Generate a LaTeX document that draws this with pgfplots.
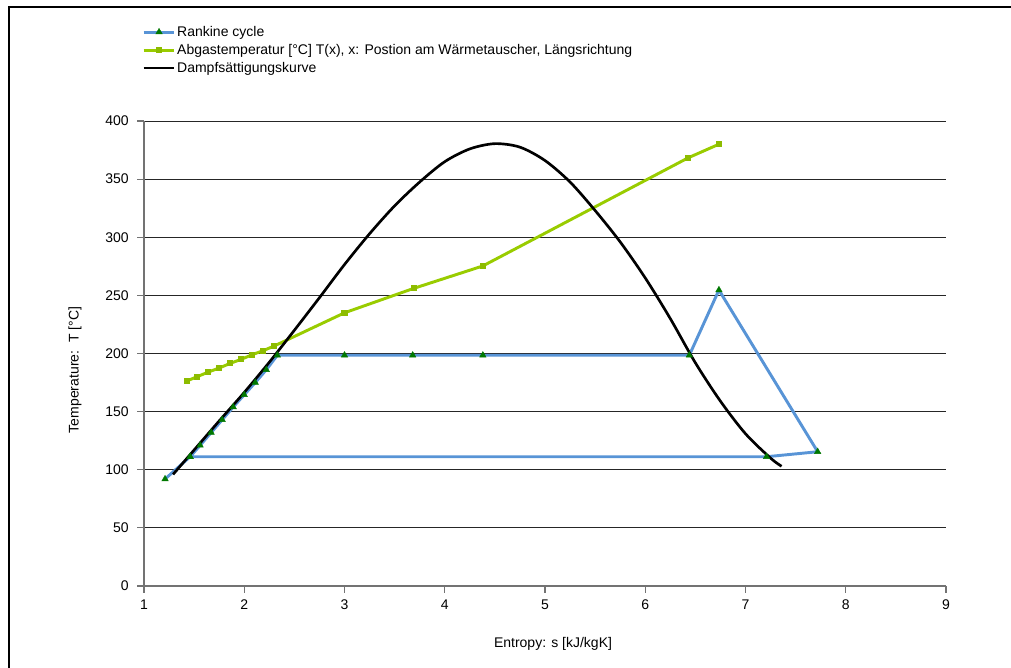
\documentclass[border=0pt]{standalone}
\usepackage{fontspec}
\setmainfont{Liberation Sans}
\usepackage{pgfplots}
\pgfplotsset{compat=1.18}
\definecolor{rblue}{RGB}{88,148,214}
\definecolor{rgreen}{RGB}{153,204,0}
\definecolor{mgreen}{RGB}{0,120,0}
\begin{document}
\begin{tikzpicture}[font=\fontsize{10.5pt}{12pt}\selectfont]
\useasboundingbox (0,0) rectangle (758.25pt,501pt);
\draw[line width=0.9pt] (6.75pt,-5pt) -- (6.75pt,495.75pt) -- (765pt,495.75pt);
\begin{axis}[at={(108pt,61.5pt)}, anchor=south west, scale only axis,
 width=601.5pt, height=348.75pt,
 xmin=1, xmax=9, ymin=0, ymax=400,
 xtick={1,2,...,9}, ytick={0,50,...,400},
 axis x line*=bottom, axis y line*=left,
 axis line style={black!55, line width=1pt, -},
 tick align=outside, major tick length=5pt,
 tick style={black!55, line width=0.8pt},
 ymajorgrids, grid style={black!85, line width=0.6pt},
 /pgf/number format/assume math mode=true,
 ticklabel style={font=\fontsize{10.5pt}{12pt}\selectfont},
 yticklabel style={xshift=-3pt},
 xticklabel style={yshift=-2pt},
 xlabel={Entropy: s [kJ/kgK]}, ylabel={Temperature:\ \ T [°C]},
 xlabel style={at={(axis description cs:0.51,-0.125)}, anchor=center},
 ylabel style={at={(axis description cs:-0.086,0.4645)}, anchor=center},
 legend style={at={(axis description cs:-0.0025,1.2077)}, anchor=north west,
   draw=none, fill=none, row sep=2.4pt, inner sep=0pt,
   nodes={inner sep=1pt}, font=\fontsize{10.5pt}{12pt}\selectfont},
 legend cell align=left,
 legend image code/.code={\draw[mark repeat=2,mark phase=2,#1] plot coordinates {(0pt,0pt) (11.5pt,0pt) (23pt,0pt)};},
]
\addplot[rblue, line width=2.2pt, mark=triangle*, mark size=2.8pt,
  mark options={solid, fill=mgreen, draw=mgreen, line width=0.3pt}] coordinates {
 (1.21,92) (1.46,111.2) (1.56,121) (1.67,132) (1.78,143) (1.89,154) (2.0,164.5)
 (2.11,175) (2.22,186) (2.33,198.5) (3.0,198.5) (3.68,198.5) (4.38,198.5)
 (6.44,198.5) (6.735,254.6) (7.72,115.5) (7.21,111.2) (1.46,111.2)};
\addlegendentry{Rankine cycle}
\addplot[rgreen, line width=2.2pt, mark=square*, mark size=1.2pt,
  mark options={solid, fill=rgreen!92!black, draw=rgreen!92!black}] coordinates {
 (1.43,176.5) (1.53,180) (1.64,184) (1.75,187.5) (1.86,191.5) (1.97,195)
 (2.08,199) (2.19,202.5) (2.30,206.5) (3.0,235) (3.69,256) (4.38,275.3)
 (6.43,368.4) (6.74,380.2)};
\addlegendentry{Abgastemperatur [°C] T(x), x: Postion am Wärmetauscher, Längsrichtung}
\addplot[black, line width=2pt, smooth] coordinates {
 (1.29,96) (1.5,117) (1.75,142) (2.0,166.5) (2.25,192.5) (2.5,220)
 (2.75,248) (3.0,276.5) (3.25,303) (3.5,327) (3.75,347.5) (4.0,365)
 (4.25,376) (4.5,380.5) (4.75,377.5) (5.0,366) (5.25,347.5) (5.5,323)
 (5.75,296) (6.0,265) (6.25,230) (6.5,192) (6.75,159) (7.0,131)
 (7.25,110) (7.36,103)};
\addlegendentry{Dampfsättigungskurve}
\end{axis}
\end{tikzpicture}
\end{document}
